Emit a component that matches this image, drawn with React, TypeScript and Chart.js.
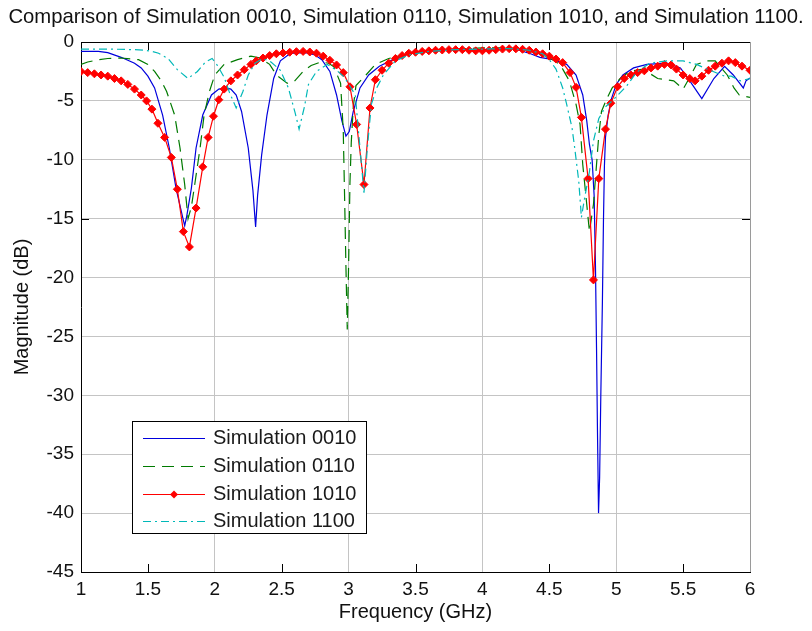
import React, { useEffect, useRef } from "react";
import { Chart, registerables } from "chart.js";

Chart.register(...registerables);

const TITLE = "Comparison of Simulation 0010, Simulation 0110, Simulation 1010, and Simulation 1100.";
const X_LABEL = "Frequency (GHz)";
const Y_LABEL = "Magnitude (dB)";
const SERIES_NAMES = ["Simulation 0010", "Simulation 0110", "Simulation 1010", "Simulation 1100"];
const X_TICKS = [1, 1.5, 2, 2.5, 3, 3.5, 4, 4.5, 5, 5.5, 6];
const Y_TICKS = [0, -5, -10, -15, -20, -25, -30, -35, -40, -45];

const freq0010 = [1.00,1.13,1.20,1.30,1.40,1.45,1.50,1.55,1.61,1.66,1.71,1.76,1.775,1.79,1.825,1.86,1.91,1.975,2.03,2.08,2.12,2.16,2.20,2.25,2.285,2.305,2.32,2.35,2.39,2.44,2.49,2.56,2.62,2.69,2.75,2.80,2.86,2.91,2.95,2.98,3.005,3.035,3.085,3.15,3.23,3.33,3.45,3.55,3.70,3.85,4.00,4.15,4.25,4.36,4.43,4.53,4.63,4.70,4.75,4.78,4.80,4.82,4.835,4.845,4.853,4.86,4.868,4.876,4.885,4.897,4.905,4.912,4.92,4.94,4.965,5.00,5.05,5.13,5.23,5.38,5.48,5.55,5.64,5.73,5.81,5.875,5.95,5.97,6.00];
const mag0010 = [-0.8,-0.8,-0.9,-1.3,-1.8,-2.2,-2.9,-3.9,-6.2,-9.0,-12.4,-14.9,-15.6,-14.8,-12.4,-9.0,-6.2,-4.5,-4.0,-3.9,-4.0,-4.5,-5.9,-9.0,-12.6,-15.7,-13.0,-9.6,-6.2,-3.1,-1.6,-1.0,-0.9,-0.93,-1.1,-1.5,-2.5,-4.5,-6.7,-8.0,-7.6,-5.9,-3.9,-2.8,-2.06,-1.5,-1.0,-0.8,-0.65,-0.62,-0.65,-0.55,-0.6,-1.0,-1.3,-1.5,-1.9,-2.8,-4.5,-6.7,-8.7,-10.0,-13.0,-19.0,-26.0,-33.0,-40.0,-37.0,-30.0,-22.0,-15.0,-10.5,-8.1,-6.2,-4.8,-3.6,-2.8,-2.2,-1.9,-1.8,-2.2,-3.3,-4.8,-3.1,-2.06,-2.8,-3.9,-3.3,-3.06];

const freq0110 = [1.00,1.05,1.13,1.20,1.30,1.43,1.50,1.55,1.60,1.64,1.70,1.74,1.775,1.80,1.825,1.85,1.89,1.92,1.96,2.00,2.07,2.17,2.27,2.34,2.41,2.46,2.54,2.59,2.66,2.72,2.79,2.85,2.89,2.94,2.96,2.97,2.98,2.99,3.00,3.01,3.02,3.035,3.055,3.13,3.20,3.30,3.45,3.60,3.80,4.00,4.20,4.30,4.40,4.48,4.58,4.65,4.70,4.73,4.75,4.78,4.80,4.83,4.855,4.87,4.89,4.93,4.97,5.03,5.10,5.20,5.31,5.43,5.50,5.55,5.60,5.68,5.74,5.83,5.88,5.92,6.00];
const mag0110 = [-1.9,-1.7,-1.5,-1.4,-1.36,-1.5,-1.9,-2.5,-3.3,-4.2,-6.2,-9.0,-12.1,-15.0,-14.0,-12.1,-9.0,-6.2,-4.2,-2.8,-1.9,-1.5,-1.2,-1.36,-1.9,-2.8,-3.5,-3.4,-2.5,-2.0,-1.7,-1.8,-2.1,-3.5,-7.5,-13.1,-19.0,-24.4,-19.0,-12.0,-8.5,-5.5,-3.7,-2.8,-1.9,-1.4,-1.0,-0.75,-0.6,-0.5,-0.5,-0.7,-0.9,-1.2,-1.9,-3.3,-5.3,-7.0,-10.4,-13.8,-16.1,-13.8,-10.1,-7.9,-5.9,-4.8,-3.9,-3.1,-2.5,-2.3,-3.1,-3.3,-4.0,-3.0,-1.9,-1.6,-1.6,-2.8,-3.9,-4.5,-4.7];

const freq1010 = [1.00,1.05,1.10,1.15,1.20,1.25,1.30,1.35,1.40,1.45,1.49,1.53,1.575,1.625,1.675,1.72,1.765,1.81,1.86,1.91,1.95,1.99,2.03,2.07,2.12,2.17,2.22,2.27,2.31,2.36,2.41,2.46,2.51,2.56,2.61,2.66,2.71,2.76,2.81,2.86,2.91,2.96,3.01,3.06,3.115,3.16,3.20,3.25,3.30,3.35,3.40,3.45,3.50,3.55,3.60,3.65,3.70,3.75,3.80,3.85,3.90,3.95,4.00,4.05,4.10,4.15,4.20,4.25,4.30,4.35,4.40,4.45,4.50,4.55,4.60,4.655,4.70,4.74,4.79,4.83,4.87,4.92,4.96,5.01,5.06,5.11,5.16,5.21,5.26,5.31,5.36,5.41,5.45,5.50,5.55,5.59,5.64,5.69,5.74,5.79,5.84,5.89,5.94,6.00];
const mag1010 = [-2.5,-2.6,-2.7,-2.8,-2.9,-3.1,-3.3,-3.6,-4.0,-4.5,-5.0,-5.7,-6.9,-8.1,-9.8,-12.5,-16.1,-17.4,-14.1,-10.6,-8.1,-6.3,-4.9,-4.0,-3.3,-2.8,-2.35,-1.9,-1.6,-1.36,-1.15,-1.0,-0.93,-0.87,-0.82,-0.8,-0.85,-0.95,-1.2,-1.55,-1.95,-2.6,-3.8,-7.0,-12.1,-5.6,-3.2,-2.4,-1.8,-1.4,-1.15,-0.95,-0.87,-0.8,-0.75,-0.7,-0.68,-0.65,-0.65,-0.65,-0.7,-0.75,-0.75,-0.7,-0.65,-0.6,-0.57,-0.58,-0.62,-0.7,-0.85,-1.0,-1.2,-1.45,-1.75,-2.6,-3.85,-6.4,-11.6,-20.2,-11.6,-7.4,-5.2,-3.8,-3.1,-2.8,-2.6,-2.45,-2.2,-2.05,-1.9,-1.95,-2.3,-2.8,-3.1,-3.3,-2.9,-2.4,-2.05,-1.8,-1.6,-1.75,-2.05,-2.4];

const freq1100 = [1.00,1.20,1.40,1.48,1.53,1.58,1.65,1.72,1.80,1.87,1.93,1.98,2.02,2.07,2.11,2.16,2.21,2.25,2.30,2.36,2.42,2.49,2.55,2.60,2.63,2.67,2.70,2.76,2.84,2.91,2.97,3.05,3.085,3.115,3.14,3.17,3.21,3.26,3.35,3.45,3.60,3.80,4.00,4.20,4.35,4.45,4.50,4.55,4.60,4.63,4.67,4.69,4.72,4.74,4.76,4.80,4.83,4.87,4.92,4.97,5.03,5.08,5.15,5.25,5.38,5.50,5.60,5.70,5.81,5.86,5.93,6.00];
const mag1100 = [-0.6,-0.6,-0.65,-0.7,-0.8,-0.95,-1.4,-2.35,-3.1,-2.5,-1.7,-1.4,-2.0,-3.0,-4.3,-5.6,-4.2,-2.8,-1.8,-1.4,-1.7,-2.4,-3.9,-6.0,-7.4,-5.5,-3.6,-2.5,-1.9,-2.4,-3.0,-4.5,-9.0,-12.8,-9.0,-5.3,-3.9,-2.8,-1.6,-1.1,-0.8,-0.65,-0.6,-0.55,-0.7,-1.0,-1.5,-2.3,-3.9,-5.3,-7.3,-9.0,-11.8,-14.9,-13.5,-11.0,-8.4,-6.5,-5.5,-5.0,-4.3,-3.7,-2.6,-1.8,-1.6,-1.6,-1.9,-2.4,-2.9,-2.9,-3.3,-3.1];

const FONT = "'Liberation Sans', Arial, Helvetica, sans-serif";

function pts(xs: number[], ys: number[]) {
  return xs.map((x, i) => ({ x, y: ys[i] }));
}

const frameAndLegend = {
  id: "frameAndLegend",
  beforeDatasetsDraw(chart: any) {
    const { ctx, chartArea, scales } = chart;
    const xs = scales.x;
    const ys = scales.y;
    ctx.save();
    ctx.lineWidth = 1;
    ctx.strokeStyle = "#000";
    ctx.beginPath();
    ctx.moveTo(chartArea.left, chartArea.top + 0.5);
    ctx.lineTo(chartArea.right, chartArea.top + 0.5);
    ctx.stroke();
    ctx.strokeStyle = "#9a9a9a";
    ctx.beginPath();
    ctx.moveTo(chartArea.right + 0.5, chartArea.top);
    ctx.lineTo(chartArea.right + 0.5, chartArea.bottom);
    ctx.stroke();
    ctx.strokeStyle = "#000";
    const tl = 8;
    X_TICKS.forEach((v) => {
      if (Number.isInteger(v)) return;
      const px = Math.round(xs.getPixelForValue(v)) + 0.5;
      ctx.beginPath();
      ctx.moveTo(px, chartArea.bottom);
      ctx.lineTo(px, chartArea.bottom - tl);
      ctx.moveTo(px, chartArea.top);
      ctx.lineTo(px, chartArea.top + tl);
      ctx.stroke();
    });
    const py = Math.round(ys.getPixelForValue(-15)) + 0.5;
    ctx.beginPath();
    ctx.moveTo(chartArea.left, py);
    ctx.lineTo(chartArea.left + tl, py);
    ctx.moveTo(chartArea.right, py);
    ctx.lineTo(chartArea.right - tl, py);
    ctx.stroke();
    ctx.restore();
  },
  afterDatasetsDraw(chart: any) {
    const { ctx } = chart;
    const bx = 132, by = 421, bw = 234, bh = 112;
    ctx.save();
    ctx.fillStyle = "#fff";
    ctx.fillRect(bx, by, bw, bh);
    ctx.strokeStyle = "#000";
    ctx.lineWidth = 1;
    ctx.strokeRect(bx + 0.5, by + 0.5, bw, bh);
    const rowY = [438, 466, 494, 521];
    chart.data.datasets.forEach((ds: any, i: number) => {
      const y = rowY[i] + 0.5;
      ctx.save();
      ctx.strokeStyle = ds.borderColor;
      ctx.lineWidth = ds.borderWidth;
      ctx.setLineDash(ds.borderDash || []);
      ctx.beginPath();
      ctx.moveTo(143, y);
      ctx.lineTo(205, y);
      ctx.stroke();
      ctx.setLineDash([]);
      if (ds.pointRadius > 0) {
        ctx.fillStyle = ds.pointBackgroundColor;
        ctx.beginPath();
        ctx.moveTo(174, y - 4);
        ctx.lineTo(178, y);
        ctx.lineTo(174, y + 4);
        ctx.lineTo(170, y);
        ctx.closePath();
        ctx.fill();
      }
      ctx.restore();
      ctx.fillStyle = "#1a1a1a";
      ctx.font = `20px ${FONT}`;
      ctx.textBaseline = "middle";
      ctx.textAlign = "left";
      ctx.fillText(ds.label, 213, y);
    });
    // chart title, drawn at natural width (no squeezing)
    ctx.fillStyle = "#111";
    ctx.font = `20.3px ${FONT}`;
    ctx.textAlign = "center";
    ctx.textBaseline = "middle";
    ctx.fillText(TITLE, 406, 17);
    ctx.restore();
  },
};

export default function App() {
  const ref = useRef<HTMLCanvasElement | null>(null);
  useEffect(() => {
    document.body.style.margin = "0";
    const canvas = ref.current;
    if (!canvas) return;
    const chart = new Chart(canvas, {
      type: "line",
      data: {
        datasets: [
          {
            label: SERIES_NAMES[0],
            data: pts(freq0010, mag0010),
            borderColor: "#0000dd",
            borderWidth: 1.2,
            pointRadius: 0,
            tension: 0,
            order: 4,
          },
          {
            label: SERIES_NAMES[1],
            data: pts(freq0110, mag0110),
            borderColor: "#007a00",
            borderWidth: 1.2,
            borderDash: [12, 7],
            pointRadius: 0,
            tension: 0,
            order: 3,
          },
          {
            label: SERIES_NAMES[2],
            data: pts(freq1010, mag1010),
            borderColor: "#ff0000",
            borderWidth: 1.2,
            pointRadius: 4,
            pointStyle: "rectRot",
            pointBackgroundColor: "#ff0000",
            pointBorderColor: "#ff0000",
            pointBorderWidth: 1,
            tension: 0,
            order: 2,
          },
          {
            label: SERIES_NAMES[3],
            data: pts(freq1100, mag1100),
            borderColor: "#00b8b8",
            borderWidth: 1.2,
            borderDash: [8, 4, 2, 4],
            pointRadius: 0,
            tension: 0,
            order: 1,
          },
        ] as any,
      },
      options: {
        animation: false,
        responsive: false,
        devicePixelRatio: 1,
        layout: { padding: { left: 0, right: 62, top: 42, bottom: 0 } },
        plugins: {
          legend: { display: false },
          tooltip: { enabled: false },
          title: { display: false },
        },
        scales: {
          x: {
            type: "linear",
            min: 1,
            max: 6,
            afterBuildTicks: (s: any) => {
              s.ticks = X_TICKS.map((v) => ({ value: v }));
            },
            afterFit: (s: any) => {
              s.height = 59;
            },
            ticks: {
              color: "#111",
              font: { family: FONT, size: 19 },
              padding: 6,
              maxRotation: 0,
              autoSkip: false,
              callback: (v: any) => String(v),
            },
            grid: {
              drawTicks: false,
              color: (c: any) => {
                const v = c.tick ? c.tick.value : null;
                return v !== null && Number.isInteger(v) && v > 1 && v < 6 ? "#c4c4c4" : "rgba(0,0,0,0)";
              },
              lineWidth: 1,
            },
            border: { display: true, color: "#000", width: 1 },
            title: {
              display: true,
              text: X_LABEL,
              color: "#111",
              font: { family: FONT, size: 20 },
              padding: { top: 0, bottom: 7 },
            },
          },
          y: {
            type: "linear",
            min: -45,
            max: 0,
            afterBuildTicks: (s: any) => {
              s.ticks = Y_TICKS.map((v) => ({ value: v }));
            },
            afterFit: (s: any) => {
              s.width = 81;
            },
            ticks: {
              color: "#111",
              font: { family: FONT, size: 19 },
              padding: 7,
              autoSkip: false,
              callback: (v: any) => String(v),
            },
            grid: {
              drawTicks: false,
              color: (c: any) => {
                const v = c.tick ? c.tick.value : null;
                return v !== null && v < 0 && v > -45 ? "#c4c4c4" : "rgba(0,0,0,0)";
              },
              lineWidth: 1,
            },
            border: { display: true, color: "#000", width: 1 },
            title: {
              display: true,
              text: Y_LABEL,
              color: "#111",
              font: { family: FONT, size: 20 },
              padding: { top: 10, bottom: 0 },
            },
          },
        },
      },
      plugins: [frameAndLegend],
    } as any);
    return () => chart.destroy();
  }, []);
  return (
    <div style={{ position: "absolute", left: 0, top: 0, width: 812, height: 631, background: "#fff" }}>
      <canvas ref={ref} width={812} height={631} />
    </div>
  );
}
